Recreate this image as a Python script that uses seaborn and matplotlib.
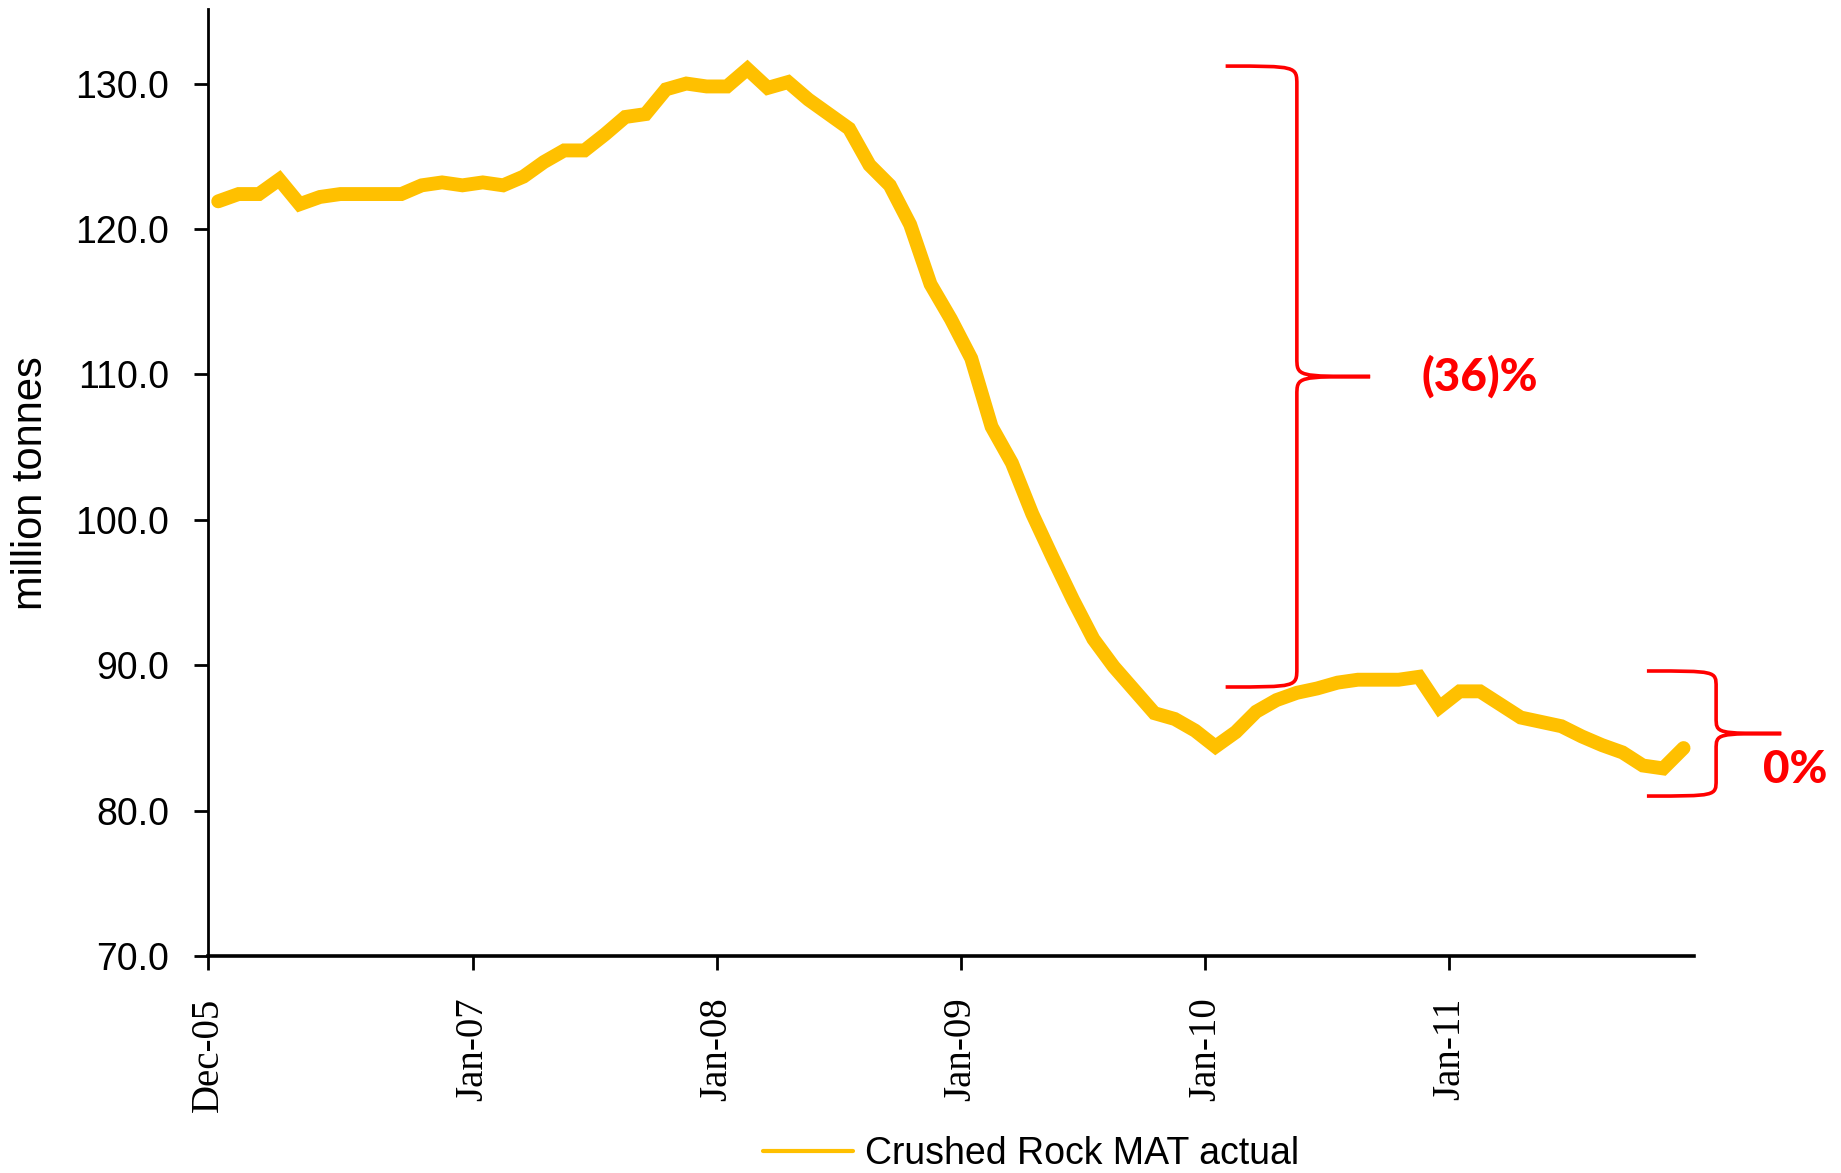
import matplotlib
matplotlib.use("Agg")
import matplotlib.pyplot as plt
from matplotlib.path import Path
from matplotlib.patches import PathPatch
import numpy as np
import pandas as pd
import seaborn as sns

# monthly moving annual total, Dec-05 .. Dec-11 (million tonnes)
months = pd.date_range("2005-12-01", periods=73, freq="MS")
crushed_rock_mat = [
    121.9, 122.4, 122.4, 123.4, 121.7, 122.2, 122.4, 122.4, 122.4, 122.4,
    123.0, 123.2, 123.0, 123.2, 123.0, 123.6, 124.6, 125.4, 125.4, 126.5,
    127.7, 127.9, 129.6, 130.0, 129.8, 129.8, 131.0, 129.7, 130.1, 128.9,
    127.9, 126.9, 124.4, 123.0, 120.3, 116.2, 113.8, 111.1, 106.4, 103.9,
    100.4, 97.4, 94.5, 91.8, 89.9, 88.3, 86.7, 86.3, 85.5, 84.4,
    85.4, 86.8, 87.6, 88.1, 88.4, 88.8, 89.0, 89.0, 89.0, 89.2,
    87.1, 88.2, 88.2, 87.3, 86.4, 86.1, 85.8, 85.1, 84.5, 84.0,
    83.1, 82.9, 84.3,
]
tick_months = ["Dec-05", "Jan-07", "Jan-08", "Jan-09", "Jan-10", "Jan-11"]
y_ticks = [70, 80, 90, 100, 110, 120, 130]

# brace annotations: (top, bottom, label)
brace_peak = (131.2, 88.5, "(36)%")
brace_recent = (89.6, 81.0, "0%")

df = pd.DataFrame({"month": months, "value": crushed_rock_mat})
df["idx"] = np.arange(len(df))
df["label"] = df["month"].dt.strftime("%b-%y")

sns.set_style("ticks")
plt.rcParams["font.family"] = ["Liberation Sans", "DejaVu Sans"]
plt.rcParams["text.color"] = "black"
plt.rcParams["xtick.color"] = "black"
plt.rcParams["ytick.color"] = "black"
plt.rcParams["axes.labelcolor"] = "black"
plt.rcParams["axes.edgecolor"] = "black"

fig = plt.figure(figsize=(18.41, 11.73), dpi=100)
ax = fig.add_axes([0.113, 0.185, 0.807, 0.807])

sns.lineplot(data=df, x="idx", y="value", ax=ax, color="#FFC000",
             linewidth=10, label="Crushed Rock MAT actual")
for ln in ax.lines:
    ln.set_solid_joinstyle("miter")

ax.set_xlim(-0.5, len(df) - 0.5)
ax.set_ylim(70, 135.1)
ax.set_yticks(y_ticks)
ax.set_yticklabels([f"{v:.1f}" for v in y_ticks], fontsize=27)
tick_pos = [df.index[df["label"] == m][0] - 0.5 for m in tick_months]
ax.set_xticks(tick_pos)
ax.set_xticklabels(tick_months, rotation=90, fontsize=28,
                   family=["Liberation Serif"], va="top")
ax.tick_params(axis="x", length=10, width=2, pad=20)
ax.tick_params(axis="y", length=10, width=2, pad=18)
ax.set_xlabel("")
ax.set_ylabel("million tonnes", fontsize=30)
ax.yaxis.set_label_coords(-0.106, 0.5)
sns.despine(ax=ax)
ax.spines["left"].set_linewidth(2)
ax.spines["bottom"].set_linewidth(2.6)


def draw_brace(ax, x_left, x_vert, x_tip, top, bottom, dy):
    mid = (top + bottom) / 2
    verts = [
        (x_left, top), (x_vert, top), (x_vert, top), (x_vert, top - dy),
        (x_vert, mid + dy),
        (x_vert, mid), (x_vert, mid), (x_tip, mid),
        (x_vert, mid), (x_vert, mid), (x_vert, mid - dy),
        (x_vert, bottom + dy),
        (x_vert, bottom), (x_vert, bottom), (x_left, bottom),
    ]
    codes = [Path.MOVETO, Path.CURVE4, Path.CURVE4, Path.CURVE4,
             Path.LINETO,
             Path.CURVE4, Path.CURVE4, Path.CURVE4,
             Path.CURVE4, Path.CURVE4, Path.CURVE4,
             Path.LINETO,
             Path.CURVE4, Path.CURVE4, Path.CURVE4]
    patch = PathPatch(Path(verts, codes), facecolor="none", edgecolor="red",
                      linewidth=2.6, clip_on=False)
    ax.add_patch(patch)
    return mid


mid1 = draw_brace(ax, 49.5, 53.0, 56.6, brace_peak[0], brace_peak[1], 1.3)
ax.text(59.1, mid1, brace_peak[2], color="red", fontsize=33, fontweight="black",
        family=["Lato", "DejaVu Sans"], va="center", ha="left")
mid2 = draw_brace(ax, 70.2, 73.6, 76.8, brace_recent[0], brace_recent[1], 1.1)
ax.text(75.9, 82.8, brace_recent[2], color="red", fontsize=33, fontweight="black",
        family=["Lato", "DejaVu Sans"], va="center", ha="left", clip_on=False)

ax.get_legend().remove()
handles, labels = ax.get_legend_handles_labels()
leg = fig.legend(handles, labels, loc="center", bbox_to_anchor=(0.56, 0.016),
                 frameon=False, fontsize=27, handlelength=2.4, handletextpad=0.3)
for line in leg.get_lines():
    line.set_linewidth(3)

fig.savefig("out.png", dpi=100)
